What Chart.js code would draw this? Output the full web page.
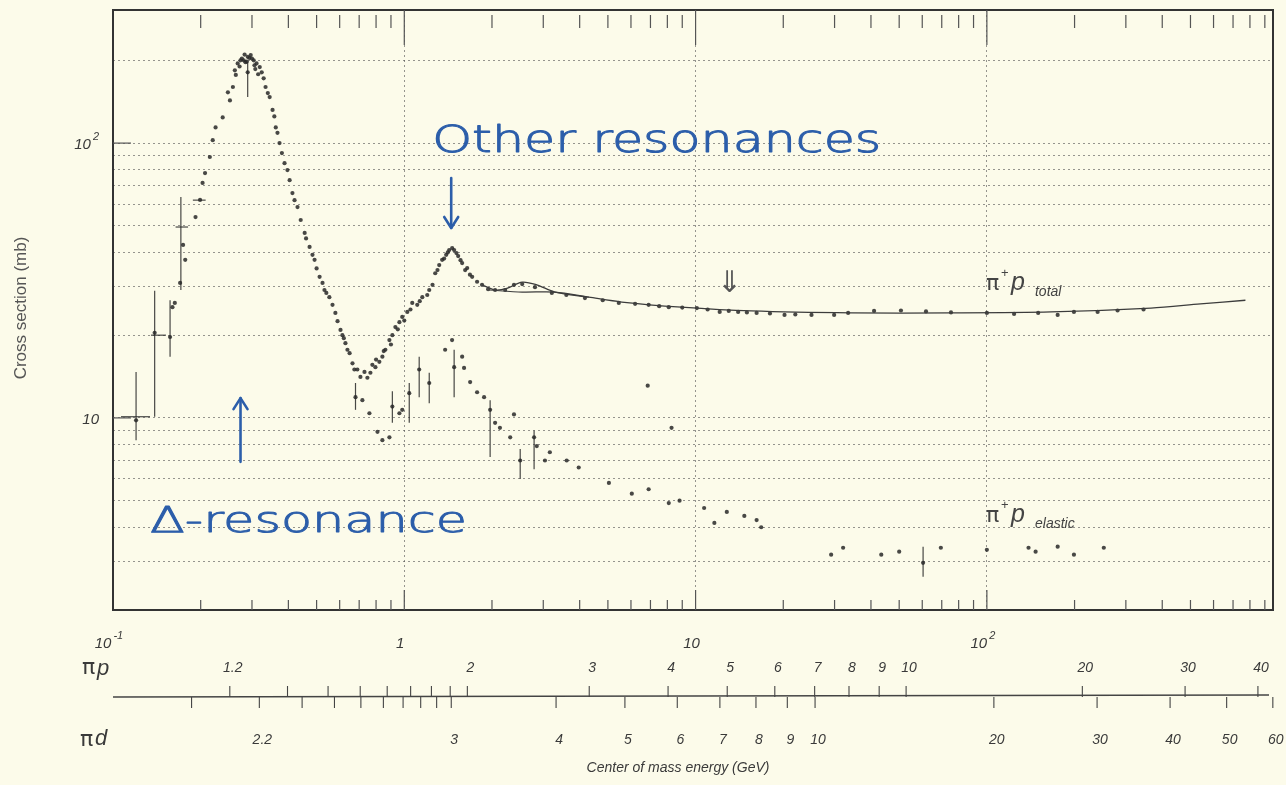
<!DOCTYPE html>
<html><head><meta charset="utf-8">
<script src="https://cdn.jsdelivr.net/npm/chart.js@4.4.1/dist/chart.umd.min.js"></script>
<style>html,body{margin:0;padding:0;background:#fcfbea;}canvas{display:block;}</style>
</head><body>
<canvas id="c" width="1286" height="785"></canvas>
<script>
// ---------- DATA (beam momentum p in GeV/c, cross section in mb) ----------
const totalP = [0.120,0.139,0.157,0.160,0.163,0.170,0.177,0.174,0.192,0.199,0.203,0.207,0.215,0.220,0.225,0.238,0.248,0.252,0.258,0.262,0.264,0.268,0.272,0.274,0.277,0.281,0.283,0.285,0.288,0.290,0.290,0.294,0.297,0.300,0.304,0.306,0.308,0.311,0.315,0.319,0.324,0.329,0.334,0.340,0.345,0.353,0.358,0.362,0.367,0.373,0.380,0.388,0.397,0.404,0.413,0.420,0.430,0.441,0.455,0.460,0.473,0.484,0.492,0.500,0.512,0.524,0.532,0.540,0.553,0.567,0.580,0.590,0.604,0.613,0.620,0.628,0.638,0.649,0.664,0.674,0.690,0.707,0.730,0.747,0.765,0.777,0.796,0.800,0.821,0.841,0.850,0.861,0.889,0.900,0.910,0.932,0.950,0.962,0.984,1.000,1.024,1.050,1.065,1.108,1.130,1.153,1.199,1.218,1.250,1.277,1.300,1.318,1.349,1.370,1.393,1.410,1.426,1.460,1.483,1.510,1.531,1.560,1.580,1.618,1.644,1.680,1.710,1.778,1.849,1.940,2.05,2.22,2.38,2.54,2.81,3.21,3.6,4.17,4.8,5.45,6.2,6.90,7.5,8.09,9.0,10.1,11.0,12.1,13.0,14.0,15.0,16.2,18.0,20.2,22.0,25.0,29.9,33.4,41.0,50.7,61.8,75.3,100,124,150,175,199,240,281,345];
const totalSigma = [9.8,20.4,19.7,25.3,26.2,31.0,37.6,42.6,53.8,62.1,71.6,77.8,89.0,102.5,114,124,153,143,160,184,177,195,190,200,203,200,210,197,198,206,181,204,209,203,200,192,186,195,178,189,181,172,160,152,147,132,125,114,109,100,92,84.5,79.8,73.3,65.8,62,58.5,52.5,47.1,45,41.9,39.2,37.6,35,32.6,31.0,29.2,28.5,27.5,25.8,24.1,22.5,20.9,20.0,19.5,18.7,17.7,17.2,15.8,15.0,15.0,14.1,14.7,14.0,14.6,15.6,15.3,16.3,16.0,16.7,17.5,17.7,19.2,18.5,20.0,21.4,21.0,22.3,23.3,22.6,24.3,24.8,26.2,25.8,26.6,27.5,28.0,29.2,30.5,33.6,34.5,36.0,37.6,38.0,39.2,40.0,40.8,41.5,40.8,39.8,38.8,37.5,36.6,34.5,35.1,33.2,32.6,31.3,30.5,29.4,29.2,29.2,30.5,30.7,29.9,28.5,28.0,27.3,26.8,26.2,26.0,25.8,25.5,25.3,25.2,25.1,24.8,24.3,24.5,24.3,24.2,24.1,24.0,23.7,23.8,23.7,23.7,24.1,24.5,24.6,24.4,24.2,24.1,23.9,24.1,23.7,24.3,24.3,24.6,24.8];

const elasticP = [0.680,0.718,0.759,0.809,0.841,0.889,0.910,0.962,0.984,1.040,1.125,1.218,1.381,1.459,1.483,1.580,1.604,1.683,1.778,1.879,1.971,2.05,2.13,2.31,2.38,2.50,2.79,2.85,3.04,3.16,3.61,3.97,5.04,6.04,6.85,6.90,8.09,8.27,8.81,10.7,11.6,12.8,14.7,16.2,16.8,29.2,32.1,43.4,50.0,60.4,69.5,100,139,147,175,199,252];
const elasticSigma = [11.9,11.6,10.4,8.9,8.3,8.5,11.0,10.4,10.7,12.3,15.0,13.4,17.7,19.2,15.3,16.7,15.2,13.5,12.4,11.9,10.7,9.6,9.2,8.5,10.3,7.0,8.5,7.9,7.0,7.5,7.0,6.6,5.8,5.3,13.1,5.5,4.9,9.2,5.0,4.7,4.15,4.55,4.4,4.25,4.0,3.18,3.37,3.18,3.26,2.97,3.37,3.31,3.37,3.26,3.40,3.18,3.37];

// smooth curves drawn through the total cross section
const fitP = [1.849,2.05,2.25,2.54,2.85,3.29,4.30,5.58,8.93,15.5,34.2,75,166,366,541,772];
const fitSigma = [30.5,29.2,29.6,31.2,30.5,28.7,27.5,26.4,25.3,24.5,24.1,24.1,24.3,25.1,26.0,26.8];
const fit2P = [1.954,2.54,3.29,4.30];
const fit2Sigma = [29.2,28.7,28.7,27.5];

// vertical error bars: p, low, high
const barP    = [0.120,0.139,0.157,0.171,0.290,0.680,0.910,1.040,1.125,1.218,1.483,1.971,2.50,2.79,60.4];
const barLow  = [8.3,10.1,16.7,29.2,147,10.7,9.6,9.6,11.9,11.3,11.9,7.2,6.0,6.5,2.64];
const barHigh = [14.7,29.0,26.8,63.7,197,13.4,12.5,13.4,16.7,14.6,17.7,11.6,7.7,9.0,3.40];
// horizontal error bars: sigma, p low, p high
const hbarSigma = [10.1,20.0,62,49.5];
const hbarPLow  = [0.1065,0.135,0.188,0.164];
const hbarPHigh = [0.134,0.152,0.208,0.181];

// axes
const xGridValues = [1,10,100];
const yGridValues = [2,3,4,5,6,7,8,9,10,20,30,40,50,60,70,80,90,100,200];
const xDecadeLabels = [[0.1,'10','-1'],[1,'1',''],[10,'10',''],[100,'10','2']];
const yDecadeLabels = [[10,'10',''],[100,'10','2']];
// centre-of-mass energy scales (GeV)
const piPTicks = [1.2,1.3,1.4,1.5,1.6,1.7,1.8,1.9,2,3,4,5,6,7,8,9,10,20,30,40];
const piPLabels = [1.2,2,3,4,5,6,7,8,9,10,20,30,40];
const piDTicks = [2.1,2.2,2.3,2.4,2.5,2.6,2.7,2.8,2.9,3,4,5,6,7,8,9,10,20,30,40,50,60];
const piDLabels = [2.2,3,4,5,6,7,8,9,10,20,30,40,50,60];

// ---------- STYLE ----------
const BG = '#fcfbea';
const INK = '#3a3a3a';
const BLUE = 'rgb(44,94,170)';
const M_PI = 0.13957, M_P = 0.93827, M_D = 1.87561;
function plab(W, mT){ const s=W*W; const E=(s-M_PI*M_PI-mT*mT)/(2*mT); return Math.sqrt(Math.max(E*E-M_PI*M_PI,1e-9)); }

function toXY(ps, ss){ return ps.map((p,i)=>({x:p,y:ss[i]})); }

function supText(ctx, base, sup, x, y, font, supFont, align){
  ctx.font = font; const w1 = ctx.measureText(base).width;
  ctx.font = supFont; const w2 = sup ? ctx.measureText(sup).width + 2 : 0;
  let x0 = align==='right' ? x - w1 - w2 : (align==='left' ? x : x - (w1+w2)/2);
  ctx.textAlign='left'; ctx.textBaseline='middle';
  ctx.font = font; ctx.fillText(base, x0, y);
  if (sup){ ctx.font = supFont; ctx.fillText(sup, x0 + w1 + 2, y - 8); }
}
function fitText(ctx, text, x0, x1, base, font){
  ctx.save(); ctx.font = font; ctx.textAlign='left'; ctx.textBaseline='alphabetic';
  const w = ctx.measureText(text).width; const sx = (x1-x0)/w;
  ctx.translate(x0, base); ctx.scale(sx,1);
  ctx.lineWidth = 1.3/sx; ctx.fillText(text,0,0); ctx.strokeText(text,0,0); ctx.restore();
}
function arrow(ctx, x, y0, y1){ // from y0 to y1, head at y1
  ctx.beginPath(); ctx.moveTo(x,y0); ctx.lineTo(x,y1); ctx.stroke();
  const d = y1>y0 ? -1 : 1;
  ctx.beginPath(); ctx.moveTo(x-7,y1+d*11); ctx.lineTo(x,y1); ctx.lineTo(x+7,y1+d*11); ctx.stroke();
}

const deco = {
  id:'deco',
  beforeDraw(chart){ const c=chart.ctx; c.save(); c.fillStyle=BG; c.fillRect(0,0,chart.width,chart.height); c.restore(); },
  afterDatasetsDraw(chart){
    const c=chart.ctx, xs=chart.scales.x, ys=chart.scales.y;
    c.save(); c.strokeStyle='rgba(40,40,40,0.85)'; c.lineWidth=1.2;
    barP.forEach((p,i)=>{ const x=xs.getPixelForValue(p);
      c.beginPath(); c.moveTo(x,ys.getPixelForValue(barLow[i])); c.lineTo(x,ys.getPixelForValue(barHigh[i])); c.stroke(); });
    hbarSigma.forEach((s,i)=>{ const y=ys.getPixelForValue(s);
      c.beginPath(); c.moveTo(xs.getPixelForValue(hbarPLow[i]),y); c.lineTo(xs.getPixelForValue(hbarPHigh[i]),y); c.stroke(); });
    c.restore();
  },
  afterDraw(chart){
    const c=chart.ctx, a=chart.chartArea, xs=chart.scales.x, ys=chart.scales.y;
    c.save();
    // frame
    c.strokeStyle='#333'; c.lineWidth=2; c.strokeRect(a.left,a.top,a.right-a.left,a.bottom-a.top);
    // edge ticks
    c.lineWidth=1.2; c.strokeStyle='#555';
    [0.1,1,10,100].forEach(d=>{
      for(let k=1;k<=9;k++){ const v=k*d; if(v<=xs.min*1.001||v>=xs.max) continue;
        const x=xs.getPixelForValue(v); const major=(k===1);
        c.beginPath(); c.moveTo(x, a.top+(major?0:5)); c.lineTo(x, a.top+(major?35:18)); c.stroke();
        c.beginPath(); c.moveTo(x, a.bottom); c.lineTo(x, a.bottom-(major?20:10)); c.stroke();
      }
    });
    [10,100].forEach(v=>{ const y=ys.getPixelForValue(v);
      c.beginPath(); c.moveTo(a.left,y); c.lineTo(a.left+18,y); c.stroke(); });
    // y labels
    c.fillStyle=INK;
    yDecadeLabels.forEach(([v,b,s])=>supText(c,b,s,a.left-14,ys.getPixelForValue(v)+2,'italic 15px "Liberation Sans"','italic 11px "Liberation Sans"','right'));
    c.save(); c.translate(21,308); c.rotate(-Math.PI/2); c.fillStyle='#555';
    c.font='17px "Liberation Sans"'; c.textAlign='center'; c.textBaseline='middle'; c.fillText('Cross section (mb)',0,0); c.restore();
    // x decade labels (lab momentum)
    xDecadeLabels.forEach(([v,b,s])=>supText(c,b,s,xs.getPixelForValue(v)-4,a.bottom+34,'italic 15px "Liberation Sans"','italic 11px "Liberation Sans"','center'));
    // centre-of-mass axis
    const yAx = a.bottom+87;
    c.strokeStyle='#444'; c.lineWidth=1.3;
    c.beginPath(); c.moveTo(a.left,yAx); c.lineTo(a.right-4,yAx-2); c.stroke();
    c.lineWidth=1.1;
    piPTicks.forEach(W=>{ const x=xs.getPixelForValue(plab(W,M_P)); c.beginPath(); c.moveTo(x,yAx); c.lineTo(x,yAx-11); c.stroke(); });
    piDTicks.forEach(W=>{ const x=xs.getPixelForValue(plab(W,M_D)); c.beginPath(); c.moveTo(x,yAx); c.lineTo(x,yAx+11); c.stroke(); });
    c.fillStyle=INK; c.font='italic 14px "Liberation Sans"'; c.textAlign='center'; c.textBaseline='middle';
    piPLabels.forEach(W=>c.fillText(String(W), xs.getPixelForValue(plab(W,M_P))+3, yAx-29));
    piDLabels.forEach(W=>c.fillText(String(W), xs.getPixelForValue(plab(W,M_D))+3, yAx+43));
    c.font='22px "DejaVu Sans"'; c.textAlign='left';
    c.fillText('\u03C0', 82, yAx-29); c.fillText('\u03C0', 80, yAx+43);
    c.font='italic 22px "Liberation Sans"';
    c.fillText('p', 97, yAx-28); c.fillText('d', 95, yAx+42);
    c.font='italic 14px "Liberation Sans"'; c.textAlign='center';
    c.fillText('Center of mass energy (GeV)', (a.left+a.right)/2-15, yAx+71);
    // curve labels
    const lab = (sub, p, s)=>{ const x=xs.getPixelForValue(p), y=ys.getPixelForValue(s);
      c.fillStyle='#444'; c.textAlign='left'; c.textBaseline='alphabetic';
      c.font='22px "DejaVu Sans"'; c.fillText('\u03C0',x,y);
      c.font='13px "Liberation Sans"'; c.fillText('+',x+15,y-13);
      c.font='italic 25px "Liberation Sans"'; c.fillText('p',x+25,y);
      c.font='italic 14px "Liberation Sans"'; c.fillText(sub,x+49,y+6);
    };
    lab('total', 99.3, 29.2);
    lab('elastic', 99.3, 4.19);
    c.fillStyle='#555'; c.font='30px "DejaVu Sans"'; c.textAlign='center'; c.textBaseline='middle';
    c.fillText('\u21D3', xs.getPixelForValue(13.07), ys.getPixelForValue(30.7));
    // hand-written annotations
    c.fillStyle=BLUE; c.strokeStyle=BLUE; c.lineWidth=2.6; c.lineCap='round'; c.lineJoin='round';
    fitText(c,'Other resonances', xs.getPixelForValue(1.247), xs.getPixelForValue(43.4), ys.getPixelForValue(92.7), '200 38px "DejaVu Sans"');
    c.lineWidth=2.6;
    arrow(c, xs.getPixelForValue(1.449), ys.getPixelForValue(74.6), ys.getPixelForValue(49.1));
    fitText(c,'\u0394-resonance', xs.getPixelForValue(0.134), xs.getPixelForValue(1.644), ys.getPixelForValue(3.85), '200 35px "DejaVu Sans"');
    c.lineWidth=2.6;
    arrow(c, xs.getPixelForValue(0.274), ys.getPixelForValue(6.92), ys.getPixelForValue(11.8));
    c.restore();
  }
};

const ptStyle = {pointRadius:2.1, pointBackgroundColor:'rgba(40,40,40,0.85)', pointBorderWidth:0, showLine:false};
new Chart(document.getElementById('c'), {
  type:'scatter',
  data:{ datasets:[
    {label:'fit', data:toXY(fitP,fitSigma), showLine:true, pointRadius:0, borderColor:'#3c3c3c', borderWidth:1.3, tension:0.3},
    {label:'fit2', data:toXY(fit2P,fit2Sigma), showLine:true, pointRadius:0, borderColor:'#3c3c3c', borderWidth:1.2, tension:0.3},
    Object.assign({label:'total', data:toXY(totalP,totalSigma)}, ptStyle),
    Object.assign({label:'elastic', data:toXY(elasticP,elasticSigma)}, ptStyle)
  ]},
  options:{
    responsive:false, animation:false, devicePixelRatio:1,
    layout:{padding:{left:113,right:13,top:10,bottom:175}},
    plugins:{legend:{display:false}, tooltip:{enabled:false}},
    scales:{
      x:{type:'logarithmic', min:0.1, max:960,
         afterBuildTicks:s=>{ s.ticks = xGridValues.map(v=>({value:v})); },
         ticks:{display:false}, border:{display:false, dash:[2,3]},
         grid:{drawTicks:false, color:'rgba(80,80,80,0.6)', lineWidth:1}},
      y:{type:'logarithmic', min:2.0, max:305,
         afterBuildTicks:s=>{ s.ticks = yGridValues.map(v=>({value:v})); },
         ticks:{display:false}, border:{display:false, dash:[2,3]},
         grid:{drawTicks:false, color:'rgba(80,80,80,0.6)', lineWidth:1}}
    }
  },
  plugins:[deco]
});
</script>
</body></html>
